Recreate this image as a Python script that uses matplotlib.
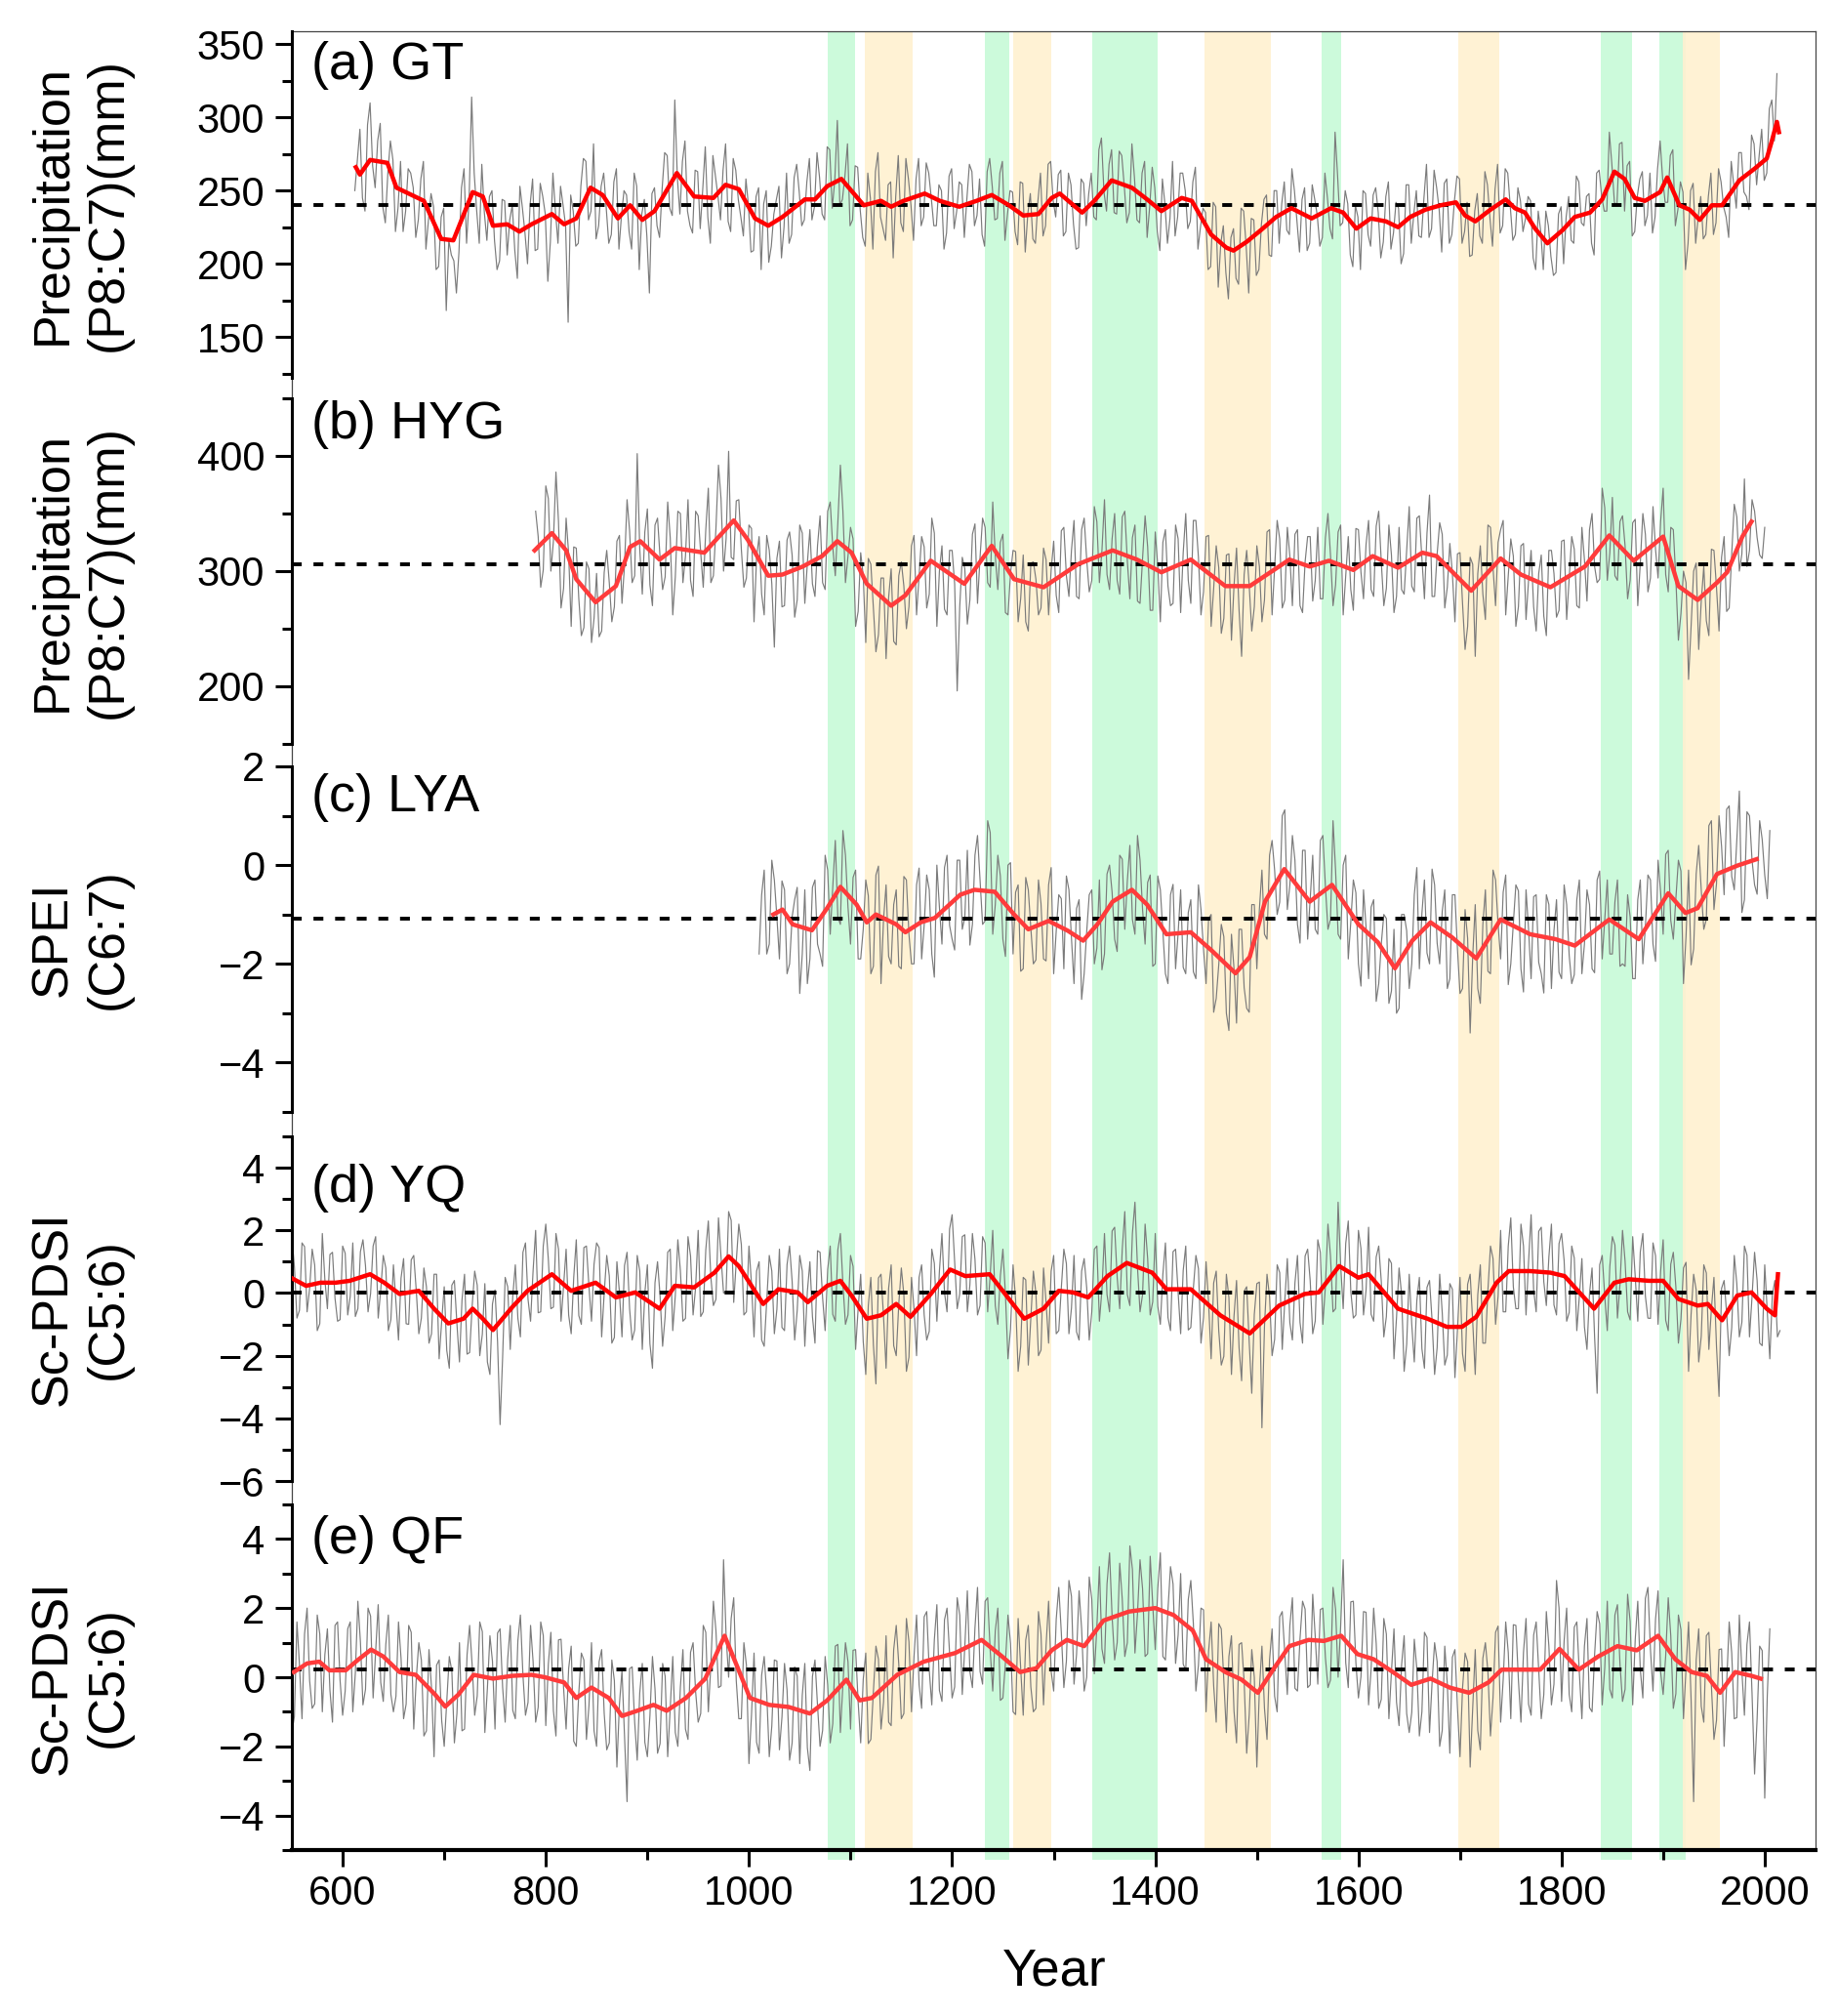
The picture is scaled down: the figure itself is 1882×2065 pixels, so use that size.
import numpy as np
import matplotlib
matplotlib.use('Agg')
import matplotlib.pyplot as plt

plt.rcParams['font.family'] = ['Liberation Sans', 'DejaVu Sans']

# ---------------- data ----------------
green_bands = [(1078, 1104), (1232, 1256), (1338, 1402), (1564, 1583), (1839, 1869), (1896, 1922)]
orange_bands = [(1114, 1161), (1260, 1298), (1448, 1514), (1698, 1739), (1919, 1956)]

# annual series sampled every 2.5 yr: *_raw on whole 5-yr steps, *_mid half-way between

# (a) GT precipitation
gt_start = 612
gt_raw = [250, 292, 236, 310, 252, 296, 228, 284, 222, 270,
          236, 262, 218, 258, 210, 248, 196, 232, 168, 206,
          180, 252, 214, 314, 236, 268, 216, 250, 196, 244,
          206, 240, 190, 238, 200, 258, 210, 246, 188, 262,
          214, 240, 160, 236, 214, 272, 230, 282, 226, 262,
          214, 256, 210, 250, 222, 262, 196, 244, 180, 252,
          218, 276, 238, 312, 234, 284, 226, 264, 224, 280,
          214, 260, 230, 282, 222, 264, 232, 258, 208, 246,
          196, 250, 212, 244, 204, 262, 220, 268, 226, 256,
          230, 276, 234, 280, 238, 298, 244, 282, 230, 266,
          218, 262, 210, 276, 224, 254, 204, 274, 222, 258,
          216, 272, 232, 262, 226, 254, 210, 260, 224, 256,
          218, 268, 226, 258, 212, 272, 230, 262, 216, 250,
          222, 256, 208, 248, 214, 262, 226, 270, 232, 264,
          222, 254, 210, 258, 226, 262, 230, 286, 236, 278,
          234, 274, 228, 282, 230, 262, 218, 266, 222, 258,
          214, 270, 232, 262, 224, 256, 210, 238, 196, 242,
          184, 226, 176, 224, 186, 236, 180, 230, 196, 244,
          206, 250, 214, 256, 220, 250, 208, 252, 214, 244,
          212, 262, 224, 290, 226, 250, 206, 240, 196, 248,
          212, 252, 204, 246, 210, 242, 200, 254, 214, 250,
          218, 268, 224, 252, 208, 258, 220, 260, 214, 242,
          206, 248, 214, 254, 212, 268, 226, 262, 216, 252,
          222, 246, 204, 236, 196, 226, 192, 234, 200, 246,
          214, 256, 226, 248, 206, 264, 236, 290, 242, 282,
          236, 270, 222, 258, 226, 262, 232, 284, 242, 274,
          226, 256, 196, 250, 214, 246, 220, 262, 228, 256,
          232, 270, 238, 276, 246, 288, 254, 292, 262, 312,
          330]
gt_mid = [271, 245, 295, 267, 284, 239, 262, 271, 238, 222,
          265, 252, 230, 270, 230, 239, 198, 238, 216, 202,
          208, 265, 244, 262, 214, 235, 246, 216, 202, 243,
          230, 209, 253, 221, 240, 209, 255, 234, 215, 236,
          253, 226, 247, 212, 253, 270, 236, 217, 253, 238,
          220, 265, 233, 247, 210, 253, 234, 219, 248, 226,
          251, 274, 233, 259, 270, 236, 221, 263, 251, 232,
          274, 246, 264, 229, 272, 244, 219, 240, 209, 252,
          241, 201, 234, 253, 225, 214, 259, 249, 230, 272,
          239, 259, 230, 278, 257, 240, 260, 226, 267, 237,
          212, 245, 263, 232, 216, 256, 246, 228, 272, 240,
          258, 226, 269, 245, 226, 250, 221, 265, 236, 254,
          244, 263, 233, 220, 263, 253, 231, 270, 234, 249,
          213, 255, 234, 217, 243, 219, 268, 243, 261, 219,
          262, 227, 211, 255, 248, 232, 278, 249, 268, 235,
          277, 253, 235, 259, 228, 270, 239, 252, 209, 241,
          231, 219, 262, 250, 229, 266, 225, 235, 198, 239,
          214, 194, 218, 190, 238, 212, 231, 192, 227, 247,
          205, 250, 241, 223, 265, 229, 244, 209, 254, 233,
          218, 245, 217, 260, 228, 241, 198, 232, 250, 220,
          247, 235, 215, 256, 221, 238, 207, 254, 234, 219,
          245, 218, 264, 237, 255, 214, 243, 258, 222, 205,
          236, 219, 263, 231, 251, 221, 265, 239, 220, 243,
          231, 243, 196, 222, 236, 205, 194, 239, 232, 216,
          260, 228, 246, 214, 262, 246, 236, 268, 240, 283,
          267, 219, 246, 263, 233, 221, 265, 258, 242, 278,
          237, 249, 214, 255, 232, 217, 246, 220, 265, 239,
          218, 254, 276, 249, 237, 282, 274, 257, 306, 284]
gt_smooth_yr = [613, 617, 627, 644, 653, 665, 680, 697, 709, 728,
                738, 748, 762, 774, 786, 806, 818, 830, 844, 856,
                871, 883, 895, 907, 929, 946, 965, 977, 990, 1006,
                1019, 1033, 1055, 1065, 1077, 1091, 1113, 1130, 1140, 1152,
                1173, 1188, 1207, 1224, 1239, 1256, 1270, 1285, 1298,
                1306, 1328, 1340, 1357, 1377, 1392, 1406, 1426, 1436, 1455,
                1470, 1477, 1490, 1504, 1519, 1534, 1554, 1573, 1585, 1598,
                1612, 1627, 1639, 1651, 1666, 1681, 1696, 1705, 1715, 1730,
                1745, 1754, 1764, 1774, 1786, 1801, 1813, 1828, 1840, 1852,
                1862, 1872, 1882, 1897, 1904, 1916, 1926, 1936, 1948, 1958,
                1975, 1990, 2002, 2007, 2012, 2014]
gt_smooth = [266, 261, 271, 269, 252, 248, 243, 217, 216, 249,
             246, 226, 227, 222, 227, 234, 227, 231, 252, 247,
             231, 240, 230, 236, 262, 246, 245, 254, 251, 231,
             226, 232, 244, 244, 253, 258, 240, 243, 239, 243,
             248, 243, 239, 243, 247, 240, 233, 234, 245,
             248, 235, 243, 257, 252, 244, 236, 245, 243, 220,
             211, 209, 215, 223, 232, 238, 231, 238, 235, 224,
             231, 229, 225, 232, 237, 240, 242, 233, 229, 237,
             244, 238, 235, 224, 214, 223, 232, 235, 244, 263,
             258, 245, 243, 249, 259, 240, 237, 230, 240, 240,
             257, 265, 272, 284, 297, 290]

# (b) HYG precipitation
hyg_start = 790
hyg_raw = [352, 286, 374, 300, 386, 268, 346, 252, 320, 244,
           308, 238, 298, 248, 318, 256, 326, 272, 362, 290,
           402, 280, 354, 270, 346, 284, 360, 262, 352, 290,
           362, 278, 348, 286, 372, 296, 392, 300, 404, 310,
           362, 286, 340, 256, 330, 262, 318, 234, 326, 270,
           334, 260, 340, 272, 336, 278, 348, 284, 360, 296,
           392, 290, 338, 252, 316, 238, 306, 230, 294, 224,
           302, 236, 308, 250, 322, 262, 330, 268, 346, 252,
           322, 262, 318, 196, 312, 254, 332, 272, 346, 290,
           360, 284, 332, 262, 318, 256, 314, 248, 308, 262,
           320, 262, 326, 264, 338, 278, 344, 276, 346, 282,
           356, 290, 362, 284, 350, 280, 352, 276, 340, 272,
           348, 266, 334, 256, 336, 270, 340, 264, 350, 272,
           344, 262, 330, 252, 322, 246, 314, 240, 320, 226,
           318, 248, 322, 256, 334, 262, 344, 268, 338, 270,
           336, 264, 330, 274, 338, 276, 350, 270, 334, 262,
           330, 266, 336, 276, 344, 278, 352, 270, 340, 264,
           338, 280, 356, 282, 348, 276, 366, 278, 342, 268,
           324, 256, 316, 232, 312, 226, 322, 258, 338, 270,
           336, 262, 328, 252, 322, 258, 318, 248, 314, 244,
           318, 260, 326, 258, 330, 270, 338, 274, 350, 290,
           372, 292, 364, 292, 348, 276, 342, 270, 350, 282,
           356, 294, 372, 282, 336, 240, 300, 206, 300, 232,
           304, 244, 318, 248, 330, 268, 358, 300, 380, 318,
           352, 314, 338]
hyg_mid = [330, 301, 363, 326, 343, 285, 315, 321, 276, 251,
           302, 259, 243, 299, 290, 269, 331, 305, 335, 296,
           319, 334, 288, 340, 312, 295, 329, 295, 350, 313,
           292, 352, 316, 336, 290, 337, 363, 328, 312, 361,
           319, 294, 337, 312, 280, 331, 289, 311, 269, 327,
           314, 275, 333, 307, 289, 322, 290, 352, 321, 342,
           352, 313, 328, 265, 296, 311, 268, 245, 294, 277,
           239, 296, 287, 269, 331, 296, 321, 280, 333, 300,
           267, 318, 289, 269, 302, 275, 341, 312, 338, 286,
           313, 325, 264, 298, 317, 276, 256, 307, 293, 268,
           310, 301, 279, 335, 296, 318, 278, 336, 310, 292,
           343, 318, 297, 328, 292, 347, 309, 329, 274, 311,
           321, 266, 304, 325, 287, 272, 328, 316, 292, 344,
           312, 282, 331, 285, 303, 259, 315, 287, 266, 297,
           287, 269, 304, 275, 336, 303, 328, 275, 313, 332,
           270, 308, 330, 292, 276, 329, 314, 288, 340, 296,
           284, 337, 299, 323, 284, 339, 308, 285, 314, 278,
           284, 318, 287, 346, 311, 333, 278, 315, 332, 286,
           298, 315, 272, 252, 306, 298, 280, 340, 303, 325,
           344, 296, 313, 269, 324, 292, 269, 298, 261, 318,
           298, 266, 327, 294, 319, 268, 310, 336, 304, 293,
           355, 316, 296, 343, 322, 292, 345, 307, 332, 294,
           319, 343, 297, 338, 293, 263, 290, 252, 307, 274,
           257, 319, 286, 312, 265, 315, 347, 315, 304, 362,
           329, 311]
hyg_smooth_yr = [789, 806, 820, 830, 849, 869, 883, 893, 912, 927,
                 956, 985, 999, 1019, 1033, 1053, 1072, 1087, 1101, 1116,
                 1140, 1154, 1179, 1212, 1239, 1261, 1290, 1324, 1358, 1382,
                 1406, 1435, 1469, 1493, 1532, 1552, 1571, 1595, 1614, 1639,
                 1663, 1677, 1711, 1740, 1760, 1789, 1823, 1847, 1871, 1900,
                 1915, 1934, 1953, 1963, 1978, 1987]
hyg_smooth = [318, 333, 318, 293, 273, 287, 321, 326, 310, 320,
              316, 344, 327, 296, 297, 304, 313, 326, 316, 289,
              270, 279, 309, 289, 322, 293, 286, 306, 318, 310,
              299, 310, 287, 287, 310, 304, 309, 301, 313, 303,
              316, 313, 283, 311, 297, 286, 304, 331, 309, 330,
              287, 275, 290, 299, 330, 343]

# (c) LYA SPEI
lya_start = 1010
lya_raw = [-1.8, -0.1, -1.6, -0.3, -1.9, -0.5, -2.0, -0.7, -2.6, -0.5,
           -1.9, -0.3, -1.8, 0.2, -1.4, 0.5, -1.2, 0.2, -1.6, -0.1,
           -1.9, -0.3, -2.2, -0.2, -2.4, -0.4, -2.0, -0.5, -2.1, -0.3,
           -2.0, -0.4, -1.9, -0.2, -1.8, 0.0, -1.6, 0.2, -1.5, 0.1,
           -1.3, 0.3, -1.2, 0.6, -1.2, 0.9, -1.4, 0.2, -1.5, 0.0,
           -1.8, -0.4, -2.1, -0.5, -2.0, -0.3, -1.9, -0.4, -2.2, -0.6,
           -2.1, -0.5, -2.4, -0.7, -2.2, -0.6, -2.0, -0.3, -1.8, 0.0,
           -1.5, 0.2, -1.3, 0.4, -1.4, 0.1, -1.6, -0.2, -2.0, -0.5,
           -2.2, -0.6, -2.1, -0.5, -2.2, -0.7, -2.3, -0.9, -2.4, -1.0,
           -2.7, -1.2, -3.0, -1.4, -3.2, -1.3, -2.9, -0.8, -2.1, -0.1,
           -1.5, 0.5, -1.0, 1.0, -0.9, 0.6, -1.2, 0.3, -1.5, 0.2,
           -1.4, 0.6, -1.3, 0.9, -1.4, 0.0, -1.9, -0.3, -2.0, -0.5,
           -2.3, -0.7, -2.4, -1.0, -2.8, -1.3, -2.9, -1.0, -2.5, -0.6,
           -2.1, -0.3, -2.0, -0.4, -2.0, -0.5, -2.3, -0.6, -2.6, -0.9,
           -3.4, -0.8, -2.8, -0.5, -2.2, -0.3, -1.9, -0.2, -2.0, -0.4,
           -2.1, -0.5, -2.3, -0.6, -2.2, -0.6, -2.5, -0.7, -2.3, -0.8,
           -2.4, -0.7, -2.2, -0.5, -2.1, -0.3, -1.9, -0.3, -1.8, -0.3,
           -2.0, -0.6, -2.3, -0.7, -2.0, -0.2, -1.6, 0.1, -1.4, 0.3,
           -1.5, 0.1, -2.4, -0.1, -1.7, 0.4, -1.3, 0.8, -0.9, 1.0,
           -0.6, 1.2, -0.5, 1.5, -0.7, 1.0, -0.4, 0.9, -0.2, 0.7]
lya_mid = [-0.6, -1.8, 0.1, -1.05, -0.32, -2.2, -1.05, -0.45, -1.8, -2.4,
           -0.45, -1.6, -2.05, -0.1, -0.45, -1.05, 0.7, -0.85, -0.25, -1.9,
           -1.3, -0.62, -2.05, -0.02, -1.1, -1.85, -0.8, -2.05, -0.23, -1.4,
           -2.0, -0.06, -1.22, -0.5, -2.27, -0.85, -0.05, -1.22, -1.72, 0.1,
           -1.06, -1.62, 0.2, -0.31, -1.13, 0.66, -0.8, -0.22, -1.85, 0.05,
           -0.55, -2.15, -0.25, -1.28, -1.92, -0.78, -1.94, -0.05, -1.33, -0.68,
           -0.22, -1.48, -0.88, -2.72, -1.35, -0.5, -1.68, -2.12, -0.18, -0.55,
           -1.75, 0.12, -0.32, -1.1, 0.6, -0.9, -0.35, -2.05, -0.22, -1.35,
           -2.4, -0.39, -1.38, -2.07, -0.96, -2.16, -0.4, -1.7, -1.08, -2.98,
           -2.02, -1.45, -3.35, -2.09, -1.3, -2.48, -2.98, -0.8, -0.9, -1.4,
           0.2, -0.1, -0.75, 1.12, -0.4, 0.1, -1.58, 0.3, -0.7, -1.3,
           0.5, -0.43, -1.1, -0.1, -1.5, 0.2, -1.15, -0.56, -2.45, -1.25,
           -0.85, -2.76, -1.6, -1.08, -2.55, -3.0, -1.0, -1.33, -2.0, -0.05,
           -0.98, -1.78, -0.08, -1.58, -0.94, -2.5, -0.6, -1.7, -2.5, -1.48,
           -1.85, -2.5, -1.2, -2.15, -0.1, -1.2, -0.55, -2.42, -1.18, -0.52,
           -2.57, -1.3, -0.64, -1.97, -2.59, -0.8, -1.33, -2.17, -0.4, -1.83,
           -2.22, -0.3, -1.6, -0.8, -2.18, -0.12, -1.1, -1.8, -0.75, -2.05,
           -2.05, -1.05, -2.3, -0.3, -1.25, -0.3, -1.95, -0.55, 0.22, -1.12,
           -0.68, -0.12, -1.45, -2.02, -0.18, -0.5, -1.1, 0.9, -0.38, 0.38,
           1.13, -0.23, 0.5, -0.96, 1.08, 0.1, -0.59, 0.52, -0.68]
lya_smooth_yr = [1024, 1033, 1043, 1062, 1077, 1090, 1106, 1116, 1125, 1145,
                 1154, 1169, 1183, 1208, 1222, 1242, 1261, 1275, 1295, 1314,
                 1329, 1343, 1358, 1377, 1392, 1411, 1435, 1455, 1479, 1493,
                 1508, 1527, 1552, 1574, 1600, 1619, 1636, 1653, 1671, 1692,
                 1716, 1740, 1769, 1794, 1813, 1847, 1876, 1905, 1922, 1934,
                 1953, 1973, 1992]
lya_smooth = [-1.0, -0.9, -1.2, -1.32, -0.87, -0.44, -0.8, -1.16, -1.0, -1.2,
              -1.36, -1.16, -1.07, -0.6, -0.5, -0.54, -1.0, -1.3, -1.13, -1.33,
              -1.53, -1.2, -0.74, -0.5, -0.8, -1.4, -1.36, -1.72, -2.19, -1.86,
              -0.74, -0.08, -0.74, -0.4, -1.2, -1.56, -2.09, -1.53, -1.16, -1.46,
              -1.89, -1.1, -1.4, -1.5, -1.63, -1.1, -1.5, -0.57, -0.97, -0.87,
              -0.18, -0.01, 0.12]

# (d) YQ scPDSI
yq_start = 550
yq_raw = [1.8, -0.8, 1.6, -0.6, 1.4, -1.2, 1.9, -0.5, 1.3, -0.9,
          1.5, -0.7, 1.6, -0.5, 1.7, -0.6, 1.5, -0.8, 1.2, -1.2,
          0.9, -1.5, 1.1, -1.0, 1.2, -1.3, 0.8, -1.6, 0.6, -2.1,
          0.2, -2.4, 0.4, -2.2, 0.6, -1.9, 0.7, -2.0, 0.3, -2.6,
          0.1, -4.2, 0.5, -1.8, 0.9, -1.4, 1.6, -0.9, 2.0, -0.6,
          2.2, -0.5, 1.9, -0.9, 1.4, -1.3, 1.7, -1.0, 1.5, -0.9,
          1.6, -1.4, 1.2, -1.6, 1.0, -1.4, 1.3, -1.5, 1.2, -1.8,
          0.9, -2.4, 1.0, -1.7, 1.3, -1.2, 1.7, -0.9, 1.8, -0.7,
          2.0, -0.6, 2.3, -0.4, 2.4, 0.0, 2.6, -0.3, 2.2, -0.7,
          1.5, -1.4, 1.0, -1.7, 1.2, -1.3, 1.4, -1.2, 1.5, -1.5,
          1.2, -1.7, 1.0, -1.6, 1.3, -1.2, 1.5, -0.9, 1.9, -1.0,
          1.2, -1.8, 0.6, -2.6, 0.5, -2.9, 0.6, -2.4, 0.9, -2.0,
          0.8, -2.5, 0.5, -2.0, 0.9, -1.5, 1.4, -0.9, 1.9, -0.6,
          2.5, -0.5, 1.8, -0.6, 1.9, -0.7, 1.8, -0.6, 2.0, -1.0,
          1.4, -2.1, 0.9, -2.5, 0.5, -2.3, 0.7, -2.0, 0.8, -1.6,
          1.2, -1.2, 1.4, -1.3, 1.2, -1.5, 1.1, -1.5, 1.4, -0.9,
          1.9, -0.6, 2.1, -0.5, 2.6, -0.4, 2.9, -0.6, 2.2, -0.7,
          1.9, -1.0, 1.6, -1.2, 1.4, -1.3, 1.5, -1.1, 1.2, -1.6,
          1.0, -2.1, 0.7, -2.3, 0.6, -2.6, 0.4, -2.8, 0.2, -3.2,
          0.3, -4.3, 0.6, -2.0, 0.9, -1.8, 1.1, -1.5, 1.2, -1.6,
          1.4, -1.3, 1.7, -1.0, 2.2, -0.6, 2.9, -0.5, 2.3, -0.8,
          2.0, -0.7, 2.1, -0.9, 1.5, -1.4, 1.1, -2.1, 0.8, -2.5,
          0.6, -2.2, 0.5, -2.4, 0.4, -2.6, 0.6, -2.3, 0.3, -2.7,
          0.5, -2.5, 0.6, -2.6, 0.9, -1.6, 1.5, -1.0, 2.0, -0.6,
          2.4, -0.5, 2.2, -0.7, 2.5, -0.6, 2.1, -0.4, 2.2, -0.7,
          1.9, -0.9, 1.5, -1.2, 1.1, -1.8, 0.8, -3.2, 1.2, -1.2,
          1.8, -0.8, 2.0, -0.6, 1.8, -0.9, 1.9, -0.8, 1.6, -1.0,
          1.7, -1.2, 1.3, -1.6, 0.8, -2.5, 0.6, -2.2, 0.9, -1.8,
          0.5, -3.3, 0.4, -2.0, 1.2, -1.4, 1.5, -1.4, 1.3, -1.6,
          0.9, -2.1, 0.4, -1.2]
yq_mid = [0.85, -0.55, 1.48, 0.15, 0.89, -0.98, 0.43, 1.23, -0.17, -0.85,
          1.27, -0.1, -0.75, 1.32, 0.87, -0.02, 1.8, 0.1, 0.8, -0.85,
          -0.28, 0.48, -0.98, 1.06, 0.07, -0.8, 0.2, -1.3, 0.6, -0.9,
          -1.83, 0.25, -0.98, -0.22, -1.95, -0.42, 0.25, -1.32, -2.2, -0.35,
          -1.55, -2.05, 0.2, -0.1, -0.8, 1.3, -0.2, 0.72, -0.63, 1.5,
          1.08, -0.45, 1.4, 0.22, -0.7, 0.5, -0.72, 1.45, 0.2, 0.92,
          1.45, 0.0, 0.55, -1.42, 0.02, 0.88, -0.5, -1.18, 0.7, 0.0,
          -1.62, 0.33, -0.1, -0.75, 1.4, -0.08, 0.71, -0.81, 1.18, 0.18,
          -0.75, 1.38, 0.5, -0.2, 1.15, 0.05, 2.32, 1.0, 1.55, -0.6,
          0.3, 0.7, -1.5, -0.23, 0.7, -0.52, -1.1, 0.91, 0.38, -0.56,
          0.7, 0.05, -0.75, 1.35, -0.15, 0.75, -0.68, 1.38, 0.3, -0.7,
          0.85, -0.5, -1.55, -0.4, -1.65, 0.48, -0.75, 0.15, -1.68, -0.35,
          -0.05, -2.05, -0.5, 0.5, -0.7, -1.22, 0.95, 0.7, 0.02, 2.04,
          0.98, -0.03, 1.86, 0.26, 1.08, -0.4, 1.6, 0.58, -0.4, 0.55,
          -0.05, -1.15, -0.22, -1.7, 0.42, -0.8, 0.0, -1.82, -0.3, 0.7,
          -1.3, 0.16, 0.94, -0.48, -1.24, 0.7, 0.17, -0.6, 1.5, 0.1,
          -0.05, 1.98, 0.5, 1.4, -0.05, 1.9, 0.82, -0.05, 1.1, -0.28,
          -0.42, 0.6, -0.78, 1.32, 0.02, 0.72, -1.18, 0.15, 0.78, -0.78,
          -0.32, 0.32, -1.2, -2.02, -0.15, -0.75, -1.75, 0.06, -1.58, -0.68,
          0.35, -1.08, -0.12, -1.48, 0.65, -0.25, -0.95, 0.32, -0.94, 1.18,
          0.4, -0.89, 1.3, 0.22, 1.18, -0.5, 0.9, 1.58, 0.05, -0.7,
          1.42, 0.08, -0.68, 1.15, 0.38, -0.75, 0.95, -0.78, -0.05, -1.64,
          -1.0, -0.24, -1.78, 0.18, -0.87, -1.74, -0.62, -1.98, 0.12, -1.18,
          -1.94, 0.28, -0.9, -0.05, -1.6, 0.1, 1.1, -0.1, -0.6, 1.5,
          0.2, -0.5, 1.5, 1.0, 0.09, 1.97, 0.36, 1.15, -0.38, 1.58,
          1.04, -0.62, 1.12, -0.1, -1.08, -0.02, -1.4, 0.9, -0.1, 0.85,
          1.53, 0.28, 1.02, -0.86, 0.53, 1.31, -0.1, -0.81, 1.19, 0.69,
          -0.87, 0.92, 0.2, -0.84, 0.98, -0.68, 0.1, -1.38, 0.64, -0.5,
          -1.7, 0.15, -0.65, -1.1, 0.3, -0.93, 1.21, -0.12, 0.4, -1.68,
          -0.62, -0.05, -1.4]
yq_smooth_yr = [549, 564, 578, 593, 607, 627, 641, 656, 675, 690,
                704, 719, 728, 738, 748, 767, 782, 806, 825, 849,
                869, 888, 912, 927, 946, 966, 980, 990, 1014, 1029,
                1048, 1058, 1077, 1090, 1101, 1116, 1130, 1145, 1159, 1179,
                1198, 1213, 1237, 1251, 1271, 1290, 1305, 1319, 1334, 1353,
                1372, 1397, 1411, 1435, 1464, 1493, 1522, 1547, 1561, 1581,
                1600, 1610, 1639, 1668, 1687, 1702, 1716, 1736, 1748, 1769,
                1789, 1803, 1832, 1852, 1866, 1886, 1900, 1915, 1934, 1944,
                1958, 1973, 1987, 2002, 2010, 2013]
yq_smooth = [0.49, 0.23, 0.33, 0.33, 0.39, 0.6, 0.33, -0.03, 0.07, -0.5,
             -0.97, -0.82, -0.5, -0.82, -1.18, -0.45, 0.07, 0.6, 0.07, 0.33,
             -0.14, 0.02, -0.5, 0.23, 0.18, 0.65, 1.17, 0.86, -0.35, 0.12,
             0.02, -0.29, 0.23, 0.39, -0.08, -0.82, -0.71, -0.35, -0.76, -0.03,
             0.75, 0.54, 0.6, 0.02, -0.82, -0.5, 0.07, 0.02, -0.14, 0.54,
             0.96, 0.65, 0.12, 0.12, -0.71, -1.29, -0.4, -0.03, 0.02, 0.86,
             0.49, 0.6, -0.5, -0.82, -1.08, -1.08, -0.76, 0.33, 0.7, 0.7,
             0.65, 0.54, -0.5, 0.33, 0.44, 0.39, 0.39, -0.19, -0.4, -0.35,
             -0.87, -0.08, 0.02, -0.5, -0.71, 0.6]

# (e) QF scPDSI
qf_start = 550
qf_raw = [-1.6, 1.6, -1.2, 2.0, -0.9, 1.8, -1.0, 1.4, -1.3, 1.6,
          -1.1, 1.4, -1.0, 2.2, -0.8, 2.0, -0.6, 2.1, -0.7, 1.8,
          -1.0, 1.6, -1.2, 1.5, -1.5, 1.0, -1.7, 0.8, -2.3, 0.5,
          -2.0, 0.6, -1.9, 1.0, -1.5, 1.5, -1.1, 1.6, -1.6, 1.2,
          -1.5, 1.4, -1.3, 1.5, -1.2, 1.8, -1.1, 1.5, -1.3, 1.6,
          -1.4, 1.3, -1.7, 1.1, -1.5, 0.9, -2.0, 0.7, -1.8, 1.0,
          -2.0, 0.8, -2.1, 0.5, -2.6, 0.2, -3.6, 0.3, -2.4, 0.4,
          -2.3, 0.6, -2.2, 0.4, -2.3, 0.6, -2.0, 0.8, -1.8, 1.0,
          -1.3, 1.5, -1.0, 2.2, -0.3, 3.4, 0.0, 2.3, -1.2, 1.0,
          -2.5, 0.7, -2.2, 0.6, -2.3, 0.5, -2.1, 0.4, -2.4, 0.3,
          -2.5, 0.4, -2.7, 0.5, -2.0, 0.6, -1.9, 0.9, -1.6, 1.0,
          -1.5, 0.8, -1.9, 0.7, -1.8, 0.9, -1.5, 1.2, -1.4, 1.5,
          -1.2, 1.7, -1.0, 1.8, -0.9, 1.9, -0.8, 2.1, -0.7, 2.0,
          -0.6, 2.3, -0.5, 2.5, -0.3, 2.6, -0.2, 2.3, -0.4, 2.0,
          -0.6, 1.8, -1.0, 1.7, -1.1, 1.5, -1.0, 1.9, -0.8, 2.2,
          -0.4, 2.6, -0.3, 2.8, -0.2, 2.5, -0.4, 2.9, 0.1, 3.2,
          0.4, 3.6, 0.5, 3.3, 0.6, 3.8, 0.7, 3.4, 0.6, 3.5,
          0.8, 3.6, 0.5, 3.2, 0.4, 3.0, 0.2, 2.8, -0.4, 2.0,
          -1.0, 1.6, -1.3, 1.4, -1.6, 1.2, -1.9, 1.0, -2.2, 0.8,
          -2.6, 0.9, -1.8, 1.4, -1.0, 1.9, -0.5, 2.3, -0.4, 2.2,
          -0.3, 2.4, -0.2, 2.0, -0.3, 2.6, 0.0, 3.4, -0.3, 2.2,
          -0.6, 1.9, -0.8, 2.0, -0.9, 1.7, -1.2, 1.4, -1.4, 1.2,
          -1.6, 1.1, -1.7, 1.3, -1.6, 1.0, -2.0, 0.9, -2.2, 0.8,
          -2.3, 0.7, -2.6, 0.8, -2.1, 1.0, -1.7, 1.3, -1.3, 1.6,
          -1.2, 1.5, -1.3, 1.7, -1.1, 1.6, -1.2, 1.9, -0.8, 2.8,
          -0.7, 2.0, -1.0, 1.6, -1.2, 1.7, -1.0, 1.9, -0.8, 2.2,
          -0.6, 2.1, -0.7, 2.4, -0.8, 2.2, -0.6, 2.6, -0.4, 2.5,
          -0.5, 2.3, -0.9, 1.8, -1.2, 1.6, -3.6, 1.4, -1.3, 1.3,
          -1.8, 0.8, -2.0, 1.6, -1.2, 1.8, -1.1, 1.6, -2.8, 0.9,
          -3.5, 1.4]
qf_mid = [-1.14, 0.35, 1.25, -0.1, -0.77, 1.25, 0.65, -0.38, 1.5, -0.1,
          -0.4, 1.6, 0.12, 1.02, -0.35, 1.77, 0.75, -0.15, 0.95, -0.5,
          -0.55, 0.55, -0.78, 1.3, -0.03, 0.5, -1.55, -0.3, 0.35, -1.25,
          -0.72, 0.18, -1.05, -1.55, 0.65, 0.35, -0.54, 1.32, -0.32, 0.46,
          1.28, -0.29, 0.53, -0.96, 1.05, 0.06, -0.73, 0.45, -0.87, 1.21,
          0.38, -0.97, 1.08, -0.3, 0.25, -1.85, -0.45, 0.5, -0.82, -1.55,
          0.45, -1.05, -1.9, -0.1, -0.78, -1.7, 0.25, -1.3, -0.45, -1.88,
          -1.12, -0.34, -1.92, 0.03, -0.9, -1.6, -0.28, -1.5, 0.72, -0.42,
          -1.05, 1.3, 0.35, 1.35, -0.25, 1.2, 1.7, -0.1, -1.2, 0.35,
          -1.1, -1.88, 0.06, -0.48, -1.41, 0.47, -1.15, -0.37, -1.9, 0.03,
          -0.52, -2.04, 0.02, -0.82, -1.54, -0.22, -1.35, 0.95, -0.2, 0.45,
          0.78, -0.72, -0.06, -1.92, -0.42, 0.52, -0.72, -1.3, 0.8, 0.38,
          -1.05, 1.03, 0.6, -0.22, 1.75, 0.2, 1.08, -0.38, 1.66, 0.69,
          -0.28, 1.8, 0.88, 0.16, 1.43, 0.17, 2.2, 0.78, 1.34, -0.67,
          0.42, 0.98, -1.08, 0.26, 1.08, -0.28, -0.9, 1.25, 0.92, 0.17,
          1.68, 1.3, 0.47, 2.34, 0.66, 1.4, 0.0, 2.25, 1.45, 0.82,
          2.7, 1.75, 1.0, 2.26, 1.0, 3.12, 1.84, 2.56, 0.68, 2.1,
          2.58, 0.6, 1.95, 2.7, 1.22, 0.38, 2.25, 1.55, 0.35, 1.95,
          0.75, -0.25, 1.55, -0.13, 0.6, -0.97, 0.95, -0.12, -1.08, 0.0,
          -0.35, -0.9, 0.5, -0.55, 1.75, 0.68, 1.5, -0.32, 1.12, 1.97,
          -0.22, 1.17, 1.96, 0.57, -0.08, 1.97, 1.47, 0.42, 2.18, 0.42,
          0.02, 1.88, 0.24, 0.98, -0.64, 1.25, 0.15, -0.72, 0.36, -1.05,
          -1.02, 0.24, -1.0, 1.15, -0.16, 0.45, -1.54, -0.19, 0.58, -0.88,
          -0.32, 0.45, -0.92, -1.54, 0.55, 0.15, -0.6, 1.48, -0.08, 0.72,
          1.52, -0.08, 0.72, -0.78, 1.22, 0.22, -0.5, 0.9, -0.2, 2.0,
          1.05, -0.5, 1.45, 0.12, 0.9, -0.88, 0.65, 1.55, 0.28, -0.35,
          1.8, 0.38, -0.35, 1.61, 1.09, 0.22, 2.28, 0.8, 1.68, 0.15,
          0.62, 1.2, -0.48, 1.38, 0.24, -0.65, 0.5, -0.84, 1.2, -0.25,
          -1.25, 0.82, -0.22, 0.7, -1.17, 0.18, 0.95, -0.47, -1.2, 0.77,
          -0.54]
qf_smooth_yr = [552, 565, 577, 587, 603, 615, 628, 640, 656, 672,
                691, 701, 714, 729, 748, 767, 786, 799, 818, 830,
                845, 862, 875, 890, 906, 919, 938, 957, 976, 988,
                1001, 1020, 1039, 1060, 1077, 1096, 1109, 1121, 1146, 1172,
                1203, 1229, 1248, 1267, 1283, 1298, 1313, 1330, 1349, 1374,
                1400, 1418, 1437, 1450, 1469, 1485, 1501, 1516, 1532, 1551,
                1566, 1583, 1599, 1615, 1634, 1652, 1671, 1690, 1709, 1728,
                1741, 1760, 1779, 1798, 1817, 1836, 1855, 1874, 1895, 1912,
                1928, 1943, 1956, 1971, 1987, 1996]
qf_smooth = [0.15, 0.4, 0.45, 0.2, 0.2, 0.5, 0.8, 0.6, 0.15, 0.07,
             -0.5, -0.85, -0.5, 0.07, -0.04, 0.04, 0.07, 0.0, -0.15, -0.6,
             -0.3, -0.6, -1.12, -0.97, -0.8, -0.97, -0.6, -0.04, 1.2, 0.34,
             -0.6, -0.8, -0.86, -1.05, -0.67, -0.07, -0.67, -0.6, 0.07, 0.45,
             0.7, 1.08, 0.63, 0.15, 0.26, 0.78, 1.08, 0.9, 1.64, 1.9,
             2.0, 1.8, 1.35, 0.52, 0.15, -0.07, -0.45, 0.22, 0.9, 1.08,
             1.05, 1.2, 0.67, 0.52, 0.15, -0.22, -0.04, -0.3, -0.45, -0.15,
             0.22, 0.22, 0.22, 0.82, 0.22, 0.6, 0.9, 0.78, 1.2, 0.52,
             0.15, 0.04, -0.45, 0.15, 0.04, -0.04]

mean_lines = [240, 306, -1.08, 0.0, 0.22]
panel_names = ['(a) GT', '(b) HYG', '(c) LYA', '(d) YQ', '(e) QF']
ylabels = ['Precipitation\n(P8:C7)(mm)', 'Precipitation\n(P8:C7)(mm)',
           'SPEI\n(C6:7)', 'Sc-PDSI\n(C5:6)', 'Sc-PDSI\n(C5:6)']
xticks_major = [600, 800, 1000, 1200, 1400, 1600, 1800, 2000]
xticks_minor = [700, 900, 1100, 1300, 1500, 1700, 1900]

# ---------------- layout ----------------
W, H = 1882, 2065
fig = plt.figure(figsize=(W / 100, H / 100), dpi=100)
LEFT, RIGHT = 299, 1860
XLIM = (550, 2050)


def box(top, bottom):
    return [LEFT / W, 1 - bottom / H, (RIGHT - LEFT) / W, (bottom - top) / H]


def merge(start, raw, mid):
    n = len(raw) + len(mid)
    yrs = start + 2.5 * np.arange(n)
    vals = np.empty(n)
    vals[0::2] = raw
    vals[1::2] = mid
    return yrs, vals


GREEN = '#ccfadb'
ORANGE = '#fff1d0'

bg = fig.add_axes(box(32, 1895), zorder=0)
bg.set_xlim(*XLIM)
bg.set_ylim(0, 1)
bg.set_xticks([])
bg.set_yticks([])
for s in ['top', 'right', 'left']:
    bg.spines[s].set_linewidth(0.9)
    bg.spines[s].set_color('#444444')
bg.spines['bottom'].set_visible(False)
ext = 10 / (1895 - 32)
for x0, x1 in green_bands:
    bg.axvspan(x0, x1, ymin=-ext, ymax=1, color=GREEN, lw=0, clip_on=False)
for x0, x1 in orange_bands:
    bg.axvspan(x0, x1, color=ORANGE, lw=0, alpha=0.9)

series = [
    (gt_start, gt_raw, gt_mid, gt_smooth_yr, gt_smooth),
    (hyg_start, hyg_raw, hyg_mid, hyg_smooth_yr, hyg_smooth),
    (lya_start, lya_raw, lya_mid, lya_smooth_yr, lya_smooth),
    (yq_start, yq_raw, yq_mid, yq_smooth_yr, yq_smooth),
    (qf_start, qf_raw, qf_mid, qf_smooth_yr, qf_smooth),
]

# per panel: pixel top/bottom, ylim, major ticks, minor ticks, label top, red colour
spec = [
    (32, 387, (122, 359), [150, 200, 250, 300, 350], [125, 175, 225, 275, 325], 42, '#ff0000'),
    (408, 762, (150, 450), [200, 300, 400], [150, 250, 350, 450], 410, '#ff3b3b'),
    (785, 1139, (-5, 2), [-4, -2, 0, 2], [-5, -3, -1, 1], 792, '#ff3b3b'),
    (1164, 1517, (-6, 5), [-6, -4, -2, 0, 2, 4], [-5, -3, -1, 1, 3, 5], 1192, '#ff0000'),
    (1541, 1895, (-5, 5), [-4, -2, 0, 2, 4], [-5, -3, -1, 1, 3, 5], 1552, '#ff3b3b'),
]

for i, ((start, raw, mid, syr, sval), (top, bot, ylim, maj, mnr, lab_top, red)) in enumerate(zip(series, spec)):
    ax = fig.add_axes(box(top, bot), zorder=1)
    ax.patch.set_visible(False)
    yrs, vals = merge(start, raw, mid)
    ax.plot(yrs, vals, color='#7b7b7b', lw=0.85, zorder=2)
    ax.axhline(mean_lines[i], color='black', lw=2.8, ls=(0, (2.6, 3.1)), zorder=3)
    ax.plot(syr, sval, color=red, lw=3.2, zorder=4)
    ax.set_xlim(*XLIM)
    ax.set_ylim(*ylim)
    for s in ['top', 'right', 'bottom']:
        ax.spines[s].set_visible(False)
    ax.spines['left'].set_linewidth(2.2)
    ax.set_yticks(maj)
    ax.set_yticks(mnr, minor=True)
    ax.tick_params(axis='y', which='major', direction='out', length=12, width=2.2,
                   labelsize=30, pad=8)
    ax.tick_params(axis='y', which='minor', direction='out', length=7, width=2.2)
    if i < 4:
        ax.set_xticks([])
    else:
        ax.spines['bottom'].set_visible(True)
        ax.spines['bottom'].set_linewidth(3.0)
        ax.set_xticks(xticks_major)
        ax.set_xticks(xticks_minor, minor=True)
        ax.tick_params(axis='x', which='major', direction='out', length=12, width=2.2,
                       labelsize=30, pad=6)
        ax.tick_params(axis='x', which='minor', direction='out', length=7, width=2.2)
    fig.text(319 / W, 1 - lab_top / H, panel_names[i], fontsize=39,
             ha='left', va='top')
    fig.text(83 / W, 1 - (top + bot) / 2 / H, ylabels[i], fontsize=37.5, rotation=90,
             ha='center', va='center', multialignment='center', linespacing=1.22)

fig.text(1080 / W, 1 - 2020 / H, 'Year', fontsize=38, ha='center', va='center')

fig.savefig('out.png', dpi=100)
